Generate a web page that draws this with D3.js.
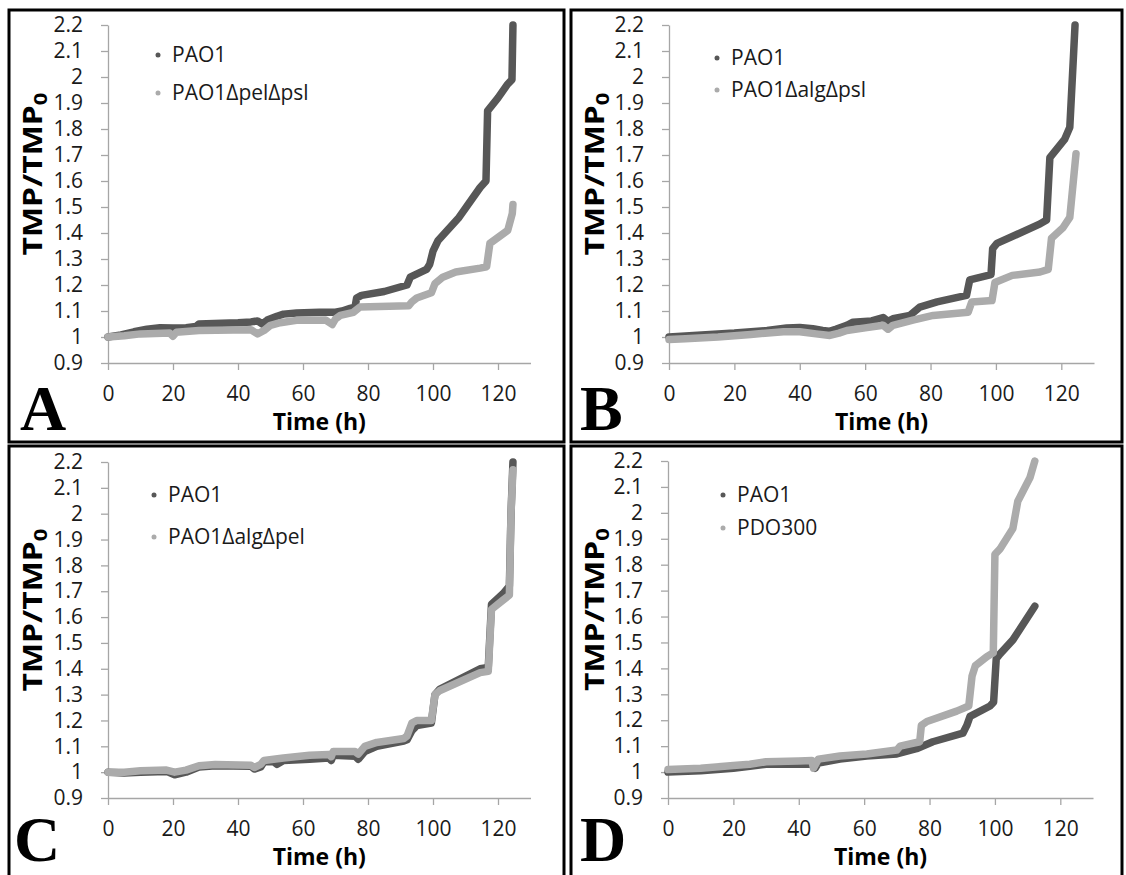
<!DOCTYPE html>
<html>
<head>
<meta charset="utf-8">
<script src="https://cdn.jsdelivr.net/npm/d3@7"></script>
<style>
  body { margin: 0; background: #fff; }
  svg { display: block; font-family: "Open Sans", sans-serif; }
</style>
</head>
<body>
<svg id="chart" width="1126" height="875"></svg>
<script>
// tick values
const xTicks = [0, 20, 40, 60, 80, 100, 120]
const yTicks = [0.9, 1, 1.1, 1.2, 1.3, 1.4, 1.5, 1.6, 1.7, 1.8, 1.9, 2, 2.1, 2.2]

// series, [time (h), TMP/TMP0]
const pao1A = [[0,1.0],[4,1.008],[8,1.02],[12,1.03],[16,1.036],[20,1.035],[24,1.036],[27,1.04],[28,1.05],[35,1.053],[40,1.055],[44,1.058],[46,1.062],[47.5,1.05],[49,1.065],[52,1.08],[54,1.088],[58,1.092],[65,1.095],[70,1.095],[72,1.1],[74.5,1.11],[76,1.115],[76.5,1.15],[78,1.16],[85,1.175],[92,1.2],[93,1.23],[98,1.26],[99,1.28],[100,1.33],[101.5,1.37],[108,1.46],[114.5,1.575],[116.3,1.6],[116.8,1.87],[120,1.92],[122.8,1.97],[124.3,1.99],[124.6,2.2]]
const pelPslA = [[0,1.0],[5,1.005],[10,1.012],[19,1.015],[20,1.003],[21,1.018],[28,1.025],[44,1.028],[46,1.012],[48,1.025],[50,1.045],[53,1.055],[58,1.064],[67,1.065],[69,1.048],[70,1.07],[71.5,1.083],[75.5,1.095],[77.5,1.115],[92.5,1.12],[93.5,1.135],[95,1.15],[99.5,1.17],[100.6,1.205],[103,1.23],[107,1.25],[114.5,1.265],[116.5,1.27],[117.5,1.36],[123,1.41],[124.4,1.475],[124.6,1.51]]

const pao1B = [[0,1.0],[10,1.008],[20,1.015],[30,1.025],[36,1.035],[40,1.037],[44,1.032],[47,1.025],[49,1.022],[51,1.03],[54.4,1.045],[56.3,1.057],[62,1.062],[65.5,1.075],[67,1.06],[68.5,1.07],[73.7,1.083],[76.7,1.115],[82,1.135],[91,1.16],[92,1.22],[98.5,1.24],[99,1.34],[100.3,1.36],[113.5,1.435],[115.5,1.45],[116.5,1.69],[121,1.76],[122.6,1.807],[123.8,2.1],[124.2,2.2]]
const algPslB = [[0,0.99],[5,0.993],[15,1.0],[25,1.01],[35,1.02],[40,1.02],[45,1.012],[49.2,1.006],[52,1.015],[54.4,1.025],[60,1.035],[65.5,1.045],[67,1.03],[68.5,1.045],[74.6,1.065],[80.8,1.083],[91.5,1.095],[92.6,1.135],[98.8,1.14],[99.7,1.21],[105,1.237],[113.5,1.25],[116,1.26],[117,1.38],[120.5,1.42],[122.6,1.46],[124.5,1.705]]

const pao1C = [[0,1.0],[5,0.997],[10,1.0],[18,1.003],[20.5,0.99],[24,1.0],[28,1.02],[33,1.025],[44,1.023],[45,1.012],[47,1.02],[48,1.04],[51,1.04],[52,1.03],[54,1.045],[62,1.05],[68,1.055],[68.7,1.045],[69.3,1.065],[76,1.062],[77,1.05],[79,1.08],[82.7,1.1],[91,1.12],[92,1.125],[93.5,1.16],[95,1.18],[99.5,1.19],[100.6,1.3],[102,1.32],[114.5,1.4],[117,1.405],[118,1.65],[121.5,1.69],[123.5,1.72],[124,2.0],[124.6,2.2]]
const algPelC = [[0,1.0],[5,1.0],[10,1.005],[18,1.008],[20.5,1.0],[24,1.008],[28,1.025],[33,1.03],[44,1.027],[45,1.018],[47,1.03],[48,1.045],[54,1.055],[62,1.065],[68,1.068],[68.7,1.06],[69.3,1.08],[76,1.08],[77,1.07],[79,1.1],[82.7,1.115],[91,1.13],[92,1.14],[93.5,1.19],[95,1.2],[99.5,1.2],[100.6,1.3],[102,1.315],[114.5,1.385],[117,1.39],[118,1.63],[121.5,1.665],[123.5,1.685],[124,2.0],[124.6,2.17]]

const pao1D = [[0,1.0],[10,1.005],[20,1.015],[25,1.022],[30,1.03],[40,1.03],[44,1.03],[45,1.015],[46,1.035],[52.6,1.05],[60.8,1.062],[70,1.07],[76,1.09],[81,1.117],[90.2,1.15],[91.4,1.18],[92.4,1.215],[98.5,1.255],[99.6,1.27],[100.4,1.437],[101.5,1.455],[105.5,1.51],[112.2,1.64]]
const pdo300D = [[0,1.01],[10,1.015],[20,1.025],[25,1.03],[30,1.04],[40,1.043],[44,1.045],[44.5,1.015],[46,1.05],[52.6,1.062],[60.8,1.07],[70,1.085],[71,1.1],[77,1.117],[77.5,1.18],[79.2,1.195],[88.3,1.235],[92,1.255],[93,1.37],[94,1.41],[97.5,1.445],[99.5,1.46],[100,1.84],[101.5,1.86],[105.5,1.94],[107,2.045],[110.7,2.135],[112.2,2.2]]

const colors = ["#575757", "#ababab"]

// panel layout
const panels = [
  {letter: "A", frame: [9, 10, 555, 432], x0: 108, x1: 530.5, top: 25, bottom: 363, letterDy: 67,
   names: ["PAO1", "PAO1ΔpelΔpsl"], series: [pao1A, pelPslA], legX: 158, legY: [55, 93], letterX: 20},
  {letter: "B", frame: [571, 10, 551, 432], x0: 669, x1: 1094, top: 25, bottom: 363, letterDy: 67,
   names: ["PAO1", "PAO1ΔalgΔpsl"], series: [pao1B, algPslB], legX: 717, legY: [58, 90], letterX: 580},
  {letter: "C", frame: [9, 446, 555, 440], x0: 108, x1: 530.5, top: 462, bottom: 798, letterDy: 63,
   names: ["PAO1", "PAO1ΔalgΔpel"], series: [pao1C, algPelC], legX: 154, legY: [495, 537], letterX: 14},
  {letter: "D", frame: [571, 446, 551, 440], x0: 668, x1: 1093, top: 461, bottom: 798, letterDy: 63,
   names: ["PAO1", "PDO300"], series: [pao1D, pdo300D], legX: 723, legY: [495, 528], letterX: 580}
]

const svg = d3.select("#chart")

panels.forEach(p => {
  const g = svg.append("g")

  g.append("rect")
      .attr("x", p.frame[0]).attr("y", p.frame[1])
      .attr("width", p.frame[2]).attr("height", p.frame[3])
      .attr("fill", "none")
      .attr("stroke", "#000")
      .attr("stroke-width", 3)

  const x = d3.scaleLinear().domain([0, 130]).range([p.x0, p.x1])
  const y = d3.scaleLinear().domain([0.9, 2.2]).range([p.bottom, p.top])

  const yAxis = g.append("g")
      .attr("transform", `translate(${p.x0},0)`)
      .call(d3.axisLeft(y).tickValues(yTicks).tickFormat(d => String(d))
        .tickSize(7).tickSizeOuter(0).tickPadding(18))
  const xAxis = g.append("g")
      .attr("transform", `translate(0,${p.bottom})`)
      .call(d3.axisBottom(x).tickValues(xTicks).tickSize(7).tickSizeOuter(0).tickPadding(16))

  ;[yAxis, xAxis].forEach(a => {
    a.select(".domain").attr("stroke", "#a6a6a6").attr("stroke-width", 1.3)
    a.selectAll(".tick line").attr("stroke", "#a6a6a6").attr("stroke-width", 1.3)
    a.selectAll(".tick text")
        .attr("fill", "#1a1a1a")
        .style("font-size", "21px")
        .style("font-family", "'Open Sans', sans-serif")
  })

  const line = d3.line()
      .x(d => x(d[0]))
      .y(d => y(d[1]))

  p.series.forEach((s, i) => {
    g.append("path")
        .attr("d", line(s))
        .attr("fill", "none")
        .attr("stroke", colors[i])
        .attr("stroke-width", 7.5)
        .attr("stroke-linejoin", "round")
        .attr("stroke-linecap", "round")
  })

  // legend
  p.names.forEach((n, i) => {
    g.append("circle")
        .attr("cx", p.legX).attr("cy", p.legY[i])
        .attr("r", 2.5)
        .attr("fill", colors[i])
    g.append("text")
        .attr("x", p.legX + 14).attr("y", p.legY[i])
        .attr("dy", "0.35em")
        .attr("fill", "#1a1a1a")
        .style("font-size", "21px")
        .text(n)
  })

  // axis titles
  g.append("text")
      .attr("x", (p.x0 + p.x1) / 2)
      .attr("y", p.bottom + 67)
      .attr("text-anchor", "middle")
      .style("font-size", "23px")
      .style("font-weight", "bold")
      .text("Time (h)")

  const yl = g.append("text")
      .attr("transform", `translate(${p.frame[0] + 24},${(p.top + p.bottom) / 2 - 20}) rotate(-90)`)
      .attr("text-anchor", "middle")
      .attr("dy", "0.35em")
      .attr("textLength", 163)
      .attr("lengthAdjust", "spacingAndGlyphs")
      .style("font-size", "26px")
      .style("font-weight", "bold")
  yl.append("tspan").text("TMP/TMP")
  yl.append("tspan").attr("dy", "0.25em").style("font-size", "18px").text("0")

  // panel letter
  g.append("text")
      .attr("x", p.letterX)
      .attr("y", p.bottom + p.letterDy)
      .style("font-family", "'Liberation Serif', 'Times New Roman', serif")
      .style("font-weight", "bold")
      .style("font-size", "64px")
      .text(p.letter)
})
</script>
</body>
</html>
